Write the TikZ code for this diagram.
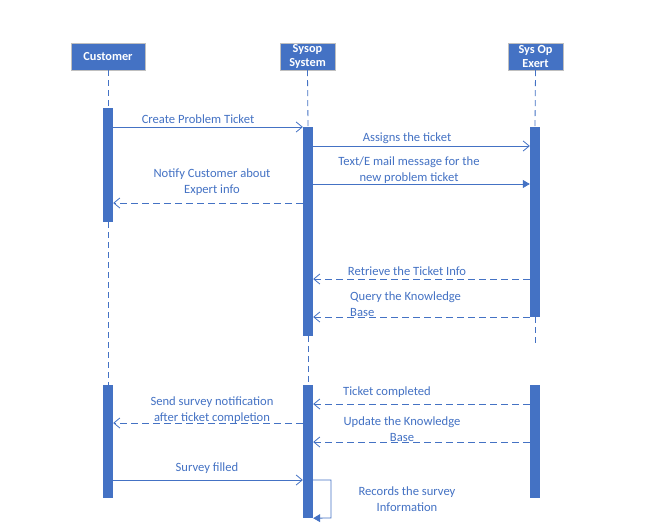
\documentclass[tikz,border=0pt]{standalone}
\usepackage{fontspec}
\setmainfont{Carlito}
\usetikzlibrary{arrows.meta}
\definecolor{blu}{HTML}{4472C4}
\begin{document}
\begin{tikzpicture}[x=1pt,y=-1pt,
  head/.style={draw=black!25, fill=blu, text=white, font=\bfseries\fontsize{12.3}{15}\selectfont, align=center, inner sep=0pt, minimum height=27pt},
  bar/.style={fill=blu, draw=none, inner sep=0pt, minimum width=10pt},
  life/.style={draw=blu, line width=0.8pt, dash pattern=on 6pt off 4pt},
  msg/.style={draw=blu, line width=0.8pt, -{Straight Barb[length=6pt,width=10pt]}},
  rmsg/.style={msg, dash pattern=on 7pt off 4pt},
  fmsg/.style={draw=blu, line width=0.8pt, -{Triangle[length=7pt,width=8pt]}},
  lbl/.style={text=blu, font=\fontsize{12.6}{16}\selectfont, align=center, inner sep=0pt}]
\useasboundingbox (0,0) rectangle (646,530);
\fill[white] (0,0) rectangle (646,530);
% headers
\node[head, minimum width=74pt] (cust) at (108,56.5) {Customer};
\node[head, minimum width=55pt] (sys) at (307.5,56.5) {Sysop\\[-1pt]System};
\node[head, minimum width=55pt] (exp) at (535.5,56.5) {Sys Op\\[-1pt]Exert};
% activation bars
\node[bar, minimum height=114pt] (cb1) at (108,165) {};
\node[bar, minimum height=113pt] (cb2) at (108,441.5) {};
\node[bar, minimum height=209pt] (sb1) at (308,231.5) {};
\node[bar, minimum height=133pt] (sb2) at (308,451.5) {};
\node[bar, minimum height=190pt] (eb1) at (535,222) {};
\node[bar, minimum height=113pt] (eb2) at (535,441.5) {};
\coordinate (eend) at (535,345);
% lifelines
\draw[life] (cust.south) -- (cb1.north);
\draw[life] (cb1.south) -- (cb2.north);
\draw[life] (sys.south) -- (sb1.north);
\draw[life] (sb1.south) -- (sb2.north);
\draw[life] (exp.south) -- (eb1.north);
\draw[life] (eb1.south) -- (eend);
% messages
\draw[msg] (cb1.east |- 0,127) -- (sb1.west |- 0,127);
\draw[msg] (sb1.east |- 0,146) -- (eb1.west |- 0,146);
\draw[fmsg] (sb1.east |- 0,184) -- (eb1.west |- 0,184);
\draw[rmsg] (sb1.west |- 0,203) -- (cb1.east |- 0,203);
\draw[rmsg] (eb1.west |- 0,279) -- (sb1.east |- 0,279);
\draw[rmsg] (eb1.west |- 0,317) -- (sb1.east |- 0,317);
\draw[rmsg] (eb2.west |- 0,404) -- (sb2.east |- 0,404);
\draw[rmsg] (eb2.west |- 0,442) -- (sb2.east |- 0,442);
\draw[rmsg] (sb2.west |- 0,423) -- (cb2.east |- 0,423);
\draw[msg] (cb2.east |- 0,480) -- (sb2.west |- 0,480);
\coordinate (lp1) at (331,480);
\coordinate (lp2) at (331,518);
\draw[fmsg] (sb2.east |- 0,480) -- (lp1) -- (lp2) -- (sb2.south east);
% labels
\node[lbl] (l1) at (198,119) {Create Problem Ticket};
\node[lbl] (l2) at (407,138) {Assigns the ticket};
\node[lbl] (l3) at (409,170) {Text/E mail message for the\\new problem ticket};
\node[lbl] (l4) at (212,182) {Notify Customer about\\Expert info};
\node[lbl] (l5) at (407,271) {Retrieve the Ticket Info};
\node[lbl, anchor=west, align=left] (l6) at (350,304) {Query the Knowledge\\Base};
\node[lbl] (l7) at (387,392) {Ticket completed};
\node[lbl] (l8) at (402,429.5) {Update the Knowledge\\Base};
\node[lbl] (l9) at (212,410.5) {Send survey notification\\after ticket completion};
\node[lbl] (l10) at (207,468) {Survey filled};
\node[lbl] (l11) at (407,499.5) {Records the survey\\Information};
\end{tikzpicture}
\end{document}
